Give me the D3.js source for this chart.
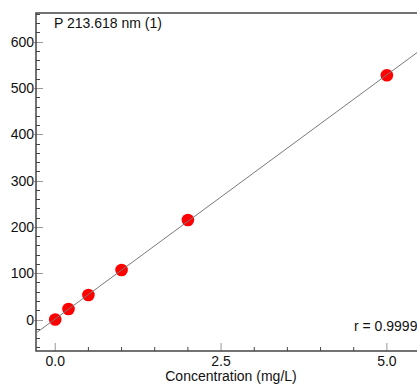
<!DOCTYPE html>
<html>
<head>
<meta charset="utf-8">
<script src="https://cdn.jsdelivr.net/npm/d3@7"></script>
<style>
  body { margin: 0; background: #fff; }
  svg { display: block; font-family: "Liberation Sans", Arial, sans-serif; }
</style>
</head>
<body>
<div id="chart"></div>
<script>
// calibration standards
const concentrations = [0, 0.2, 0.5, 1.0, 2.0, 5.0];
const intensities = [0, 22.7, 52.9, 106.8, 214.8, 527.5];
const xMajorTicks = [0, 2.5, 5.0];
const yMajorTicks = [0, 100, 200, 300, 400, 500, 600];
const title = "P 213.618 nm (1)";
const rLabel = "r = 0.99996";
const xLabel = "Concentration (mg/L)";

const width = 417, height = 384;
const plot = { left: 36, top: 13, right: 430, bottom: 351 };

const svg = d3.select("#chart").append("svg")
  .attr("width", width)
  .attr("height", height);

const x = d3.scaleLinear().domain([-0.29, 5.65]).range([plot.left, plot.right]);
const y = d3.scaleLinear().domain([-68, 662]).range([plot.bottom, plot.top]);

// least squares fit line
const n = concentrations.length;
const mx = d3.mean(concentrations), my = d3.mean(intensities);
let sxy = 0, sxx = 0;
for (let i = 0; i < n; i++) {
  sxy += (concentrations[i] - mx) * (intensities[i] - my);
  sxx += (concentrations[i] - mx) ** 2;
}
const slope = sxy / sxx;
const intercept = my - slope * mx;

svg.append("defs").append("clipPath").attr("id", "plot-clip")
  .append("rect")
  .attr("x", plot.left).attr("y", plot.top)
  .attr("width", plot.right - plot.left).attr("height", plot.bottom - plot.top);

// minor ticks
const xMinor = d3.range(0, 5.6, 0.5).filter(v => !xMajorTicks.includes(v));
const yMinor = d3.range(-60, 661, 20).filter(v => v % 100 !== 0);

svg.selectAll(".xminor").data(xMinor).enter().append("line")
  .attr("x1", d => x(d)).attr("x2", d => x(d))
  .attr("y1", plot.bottom).attr("y2", plot.bottom - 4)
  .attr("stroke", "#444").attr("stroke-width", 1);

svg.selectAll(".yminor").data(yMinor).enter().append("line")
  .attr("x1", plot.left).attr("x2", plot.left + 4)
  .attr("y1", d => Math.round(y(d)) + 0.5).attr("y2", d => Math.round(y(d)) + 0.5)
  .attr("stroke", "#444").attr("stroke-width", 1);

// major ticks
svg.selectAll(".xmajor").data(xMajorTicks).enter().append("line")
  .attr("x1", d => x(d)).attr("x2", d => x(d))
  .attr("y1", plot.bottom).attr("y2", plot.bottom - 8)
  .attr("stroke", "#999").attr("stroke-width", 1);

svg.selectAll(".ymajor").data(yMajorTicks).enter().append("line")
  .attr("x1", plot.left - 2).attr("x2", plot.left + 7)
  .attr("y1", d => Math.round(y(d)) + 0.5).attr("y2", d => Math.round(y(d)) + 0.5)
  .attr("stroke", "#999").attr("stroke-width", 1);

// frame: left, top, bottom
svg.append("path")
  .attr("d", `M${plot.right},${plot.top}H${plot.left}V${plot.bottom}H${plot.right}`)
  .attr("fill", "none")
  .attr("stroke", "#444")
  .attr("stroke-width", 1.5);

// tick labels
svg.selectAll(".xlab").data(xMajorTicks).enter().append("text")
  .attr("x", d => x(d)).attr("y", 366)
  .attr("text-anchor", "middle")
  .attr("font-size", 14).attr("fill", "#111")
  .text(d => d.toFixed(1));

svg.selectAll(".ylab").data(yMajorTicks).enter().append("text")
  .attr("x", 34).attr("y", d => y(d) + 5)
  .attr("text-anchor", "end")
  .attr("font-size", 14).attr("fill", "#111")
  .text(d => d);

svg.append("text")
  .attr("x", 231).attr("y", 381)
  .attr("text-anchor", "middle")
  .attr("font-size", 14).attr("fill", "#111")
  .text(xLabel);

svg.append("text")
  .attr("x", 54).attr("y", 28)
  .attr("font-size", 14).attr("fill", "#111")
  .text(title);

svg.append("text")
  .attr("x", 354).attr("y", 331)
  .attr("font-size", 14).attr("fill", "#111")
  .text(rLabel);

// data points
svg.selectAll(".pt").data(concentrations).enter().append("circle")
  .attr("cx", d => x(d))
  .attr("cy", (d, i) => y(intensities[i]))
  .attr("r", 6.3)
  .attr("fill", "#ff0000");

// fit line drawn over the points
const xs = x.domain();
svg.append("line")
  .attr("clip-path", "url(#plot-clip)")
  .attr("x1", x(xs[0])).attr("y1", y(intercept + slope * xs[0]))
  .attr("x2", x(xs[1])).attr("y2", y(intercept + slope * xs[1]))
  .attr("stroke", "#7a7a7a")
  .attr("stroke-width", 1);
</script>
</body>
</html>
